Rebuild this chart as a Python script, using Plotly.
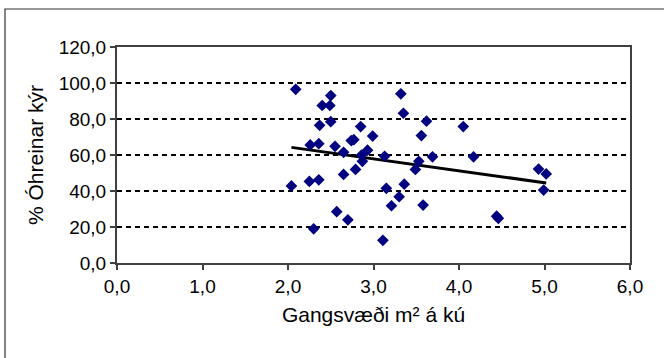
import numpy as np
import plotly.graph_objects as go

# Gangsvæði (m² per cow) and share of unclean cows (%)
gangsvaedi = [2.09, 2.50, 2.40, 2.49, 2.37, 2.50, 2.85, 2.99, 2.74, 2.77,
              2.26, 2.36, 2.55, 2.65, 2.93, 2.86, 2.87, 3.13, 2.79, 2.65,
              2.04, 2.25, 2.36, 3.15, 3.36, 3.30, 3.21, 2.57, 2.70, 2.30,
              3.11, 3.32, 3.35, 3.62, 3.56, 4.05, 3.69, 4.17, 3.53, 3.49,
              3.58, 4.44, 4.46, 4.93, 5.02, 4.99]
ohreinar = [96.5, 93.0, 87.5, 87.5, 76.5, 78.5, 75.8, 70.5, 68.0, 68.5,
            65.6, 66.3, 64.8, 61.5, 62.7, 60.0, 56.5, 59.3, 52.0, 49.2,
            42.8, 45.3, 46.2, 41.5, 43.8, 36.8, 31.8, 28.5, 24.0, 19.0,
            12.6, 94.0, 83.2, 78.8, 70.8, 75.8, 59.0, 59.0, 56.5, 52.0,
            32.2, 26.0, 24.8, 52.2, 49.5, 40.5]

x_ticks = [0, 1, 2, 3, 4, 5, 6]
y_ticks = [0, 20, 40, 60, 80, 100, 120]

# Linear trend fitted to the observations
slope, intercept = np.polyfit(gangsvaedi, ohreinar, 1)
trend_x = np.array([min(gangsvaedi), max(gangsvaedi)])
trend_y = slope * trend_x + intercept

font = "Liberation Sans, Arial, sans-serif"

fig = go.Figure()
fig.add_trace(go.Scatter(
    x=trend_x, y=trend_y, mode="lines",
    line=dict(color="black", width=3),
    hoverinfo="skip", showlegend=False,
))
fig.add_trace(go.Scatter(
    x=gangsvaedi, y=ohreinar, mode="markers",
    marker=dict(symbol="diamond", size=9, color="#000080",
                line=dict(width=0)),
    showlegend=False,
))

L, R, T, B = 117, 34, 47, 95
W, H = 664, 358
pw, ph = W - L - R, H - T - B

def px_x(p):
    return (p - L) / pw

def px_y(p):
    return (H - B - p) / ph

# outer chart frame
fig.add_shape(type="rect", xref="paper", yref="paper",
              x0=px_x(5), x1=px_x(W + 10), y0=px_y(H + 10), y1=px_y(9),
              line=dict(color="#333333", width=1.2), fillcolor="rgba(0,0,0,0)",
              layer="below")

fig.update_layout(
    width=W, height=H,
    margin=dict(l=L, r=R, t=T, b=B),
    paper_bgcolor="white", plot_bgcolor="white",
    separators=",.",
    font=dict(family=font, size=19, color="black"),
    xaxis=dict(
        range=[0, 6], tickvals=x_ticks, tickformat=".1f",
        showgrid=False, zeroline=False,
        showline=True, linecolor="#404040", linewidth=2, mirror=True,
        ticks="outside", ticklen=5, tickcolor="#404040", tickwidth=1.5,
        tickfont=dict(size=19),
        title=dict(text="Gangsvæði m² á kú", font=dict(size=21), standoff=12),
        automargin=False,
    ),
    yaxis=dict(
        range=[0, 120], tickvals=y_ticks, tickformat=".1f",
        showgrid=True, gridcolor="black", gridwidth=1.5, griddash="5px,4px",
        zeroline=False,
        showline=True, linecolor="#404040", linewidth=2, mirror=True,
        ticks="outside", ticklen=5, tickcolor="#404040", tickwidth=1.5,
        tickfont=dict(size=19),
        title=dict(text="% Óhreinar kýr", font=dict(size=21), standoff=9),
        automargin=False,
    ),
)

fig.write_html("out.html")
